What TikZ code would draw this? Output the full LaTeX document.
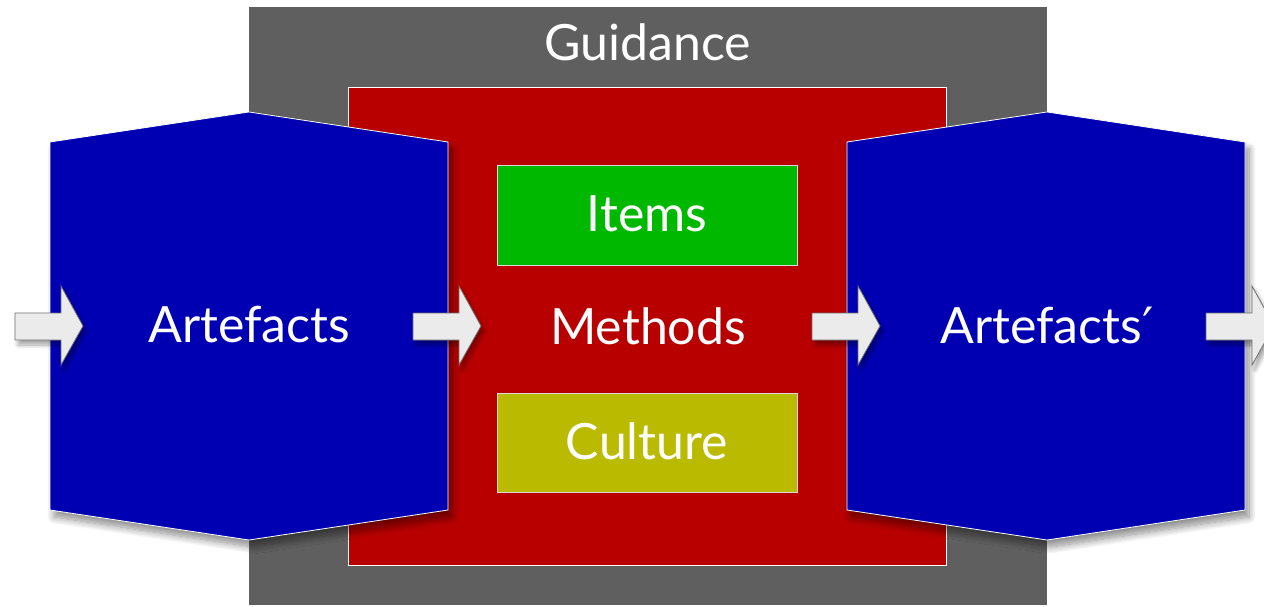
\documentclass[tikz,border=0pt]{standalone}
\usepackage{fontspec}
\setmainfont{Lato}
\newfontfamily\primefont{DejaVu Sans}
\usetikzlibrary{shadows.blur}
\definecolor{guidegray}{HTML}{5F5F5F}
\definecolor{methred}{HTML}{B80000}
\definecolor{artblue}{HTML}{0000B2}
\definecolor{itemgreen}{HTML}{00B800}
\definecolor{cultolive}{HTML}{BABA00}
\definecolor{arrowfill}{HTML}{EBEBEB}
\definecolor{arrowline}{HTML}{6E6E6E}
\tikzset{
  label/.style={text=white, font=\fontsize{50}{58}\selectfont, inner sep=0pt},
  hexshape/.style={fill=artblue, draw=white, line width=0.8pt,
     blur shadow={shadow xshift=4pt, shadow yshift=-7pt, shadow blur steps=12, shadow blur radius=7pt, shadow opacity=45}},
  flowarrow/.style={fill=arrowfill, draw=arrowline, line width=0.8pt,
     blur shadow={shadow xshift=3pt, shadow yshift=-5pt, shadow blur steps=8, shadow blur radius=4pt, shadow opacity=35}},
  boxstyle/.style={draw=white!85!black, line width=0.6pt}
}
\begin{document}
\begin{tikzpicture}[x=1pt,y=-1pt]
\useasboundingbox (0,0) rectangle (1264,607);
\clip (0,0) rectangle (1264,607);
% Guidance frame
\fill[guidegray] (249,7) rectangle (1047,605);
\node[label] (guidance) at (648,42) {Guidance};
% Methods frame
\draw[fill=methred, draw=white, line width=0.6pt] (348,87) rectangle (946,565);
\node[label] (methods) at (648,326) {Methods};
% Items and Culture
\draw[boxstyle, fill=itemgreen] (497,165) rectangle (797,265);
\node[label] (items) at (647,214) {Items};
\draw[boxstyle, fill=cultolive] (497,393) rectangle (797,492);
\node[label] (culture) at (647,441) {Culture};
% Artefacts hexagons
\draw[hexshape] (50,142) -- (249,112) -- (448,142) -- (448,510) -- (249,540) -- (50,510) -- cycle;
\node[label] (art) at (249,325) {Artefacts};
\draw[hexshape] (847,142) -- (1047,112) -- (1245,142) -- (1245,510) -- (1047,540) -- (847,510) -- cycle;
\node[label] (artp) at (1047,325) {Artefacts{\primefont ′}};
% Flow arrows
\foreach \sx in {15,413,812,1206}{
  \draw[flowarrow] (\sx,313) -- (\sx+46,313) -- (\sx+46,286) -- (\sx+68,326)
     -- (\sx+46,365) -- (\sx+46,340) -- (\sx,340) -- cycle;
}
\end{tikzpicture}
\end{document}
